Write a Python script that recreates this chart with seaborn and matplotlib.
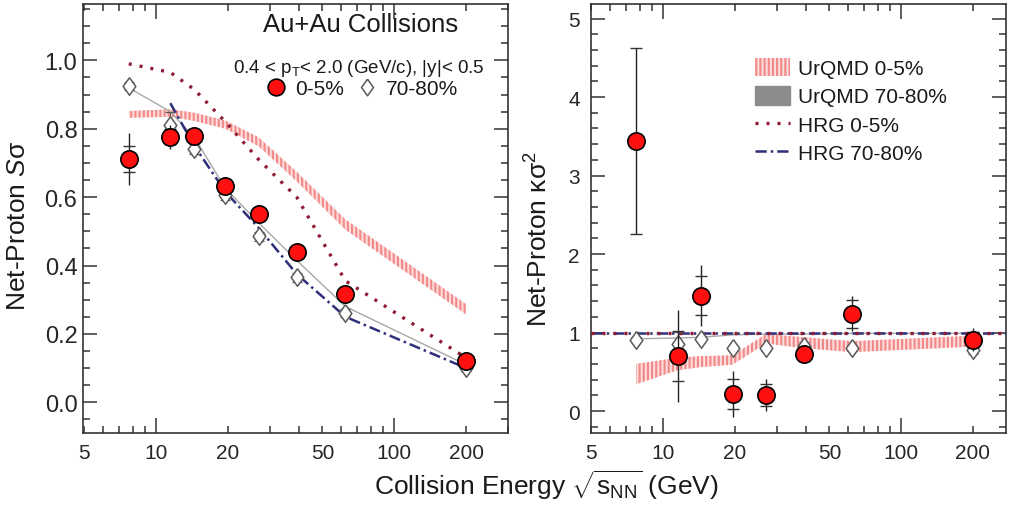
import numpy as np
import pandas as pd
import matplotlib
matplotlib.use("Agg")
import matplotlib.pyplot as plt
import seaborn as sns
from matplotlib.patches import Patch
from matplotlib.lines import Line2D
from matplotlib.ticker import FixedLocator, FixedFormatter, FuncFormatter, MultipleLocator

# ---------------- data ----------------
energies = [7.7, 11.5, 14.5, 19.6, 27, 39, 62.4, 200]
hrg_p_energies = [11.5, 14.5, 19.6, 27, 39, 62.4, 200]

# S*sigma
ss_central = [0.712, 0.777, 0.780, 0.634, 0.552, 0.440, 0.316, 0.120]
ss_central_stat = [0.076, 0.035, 0.020, 0.012, 0.010, 0.008, 0.007, 0.006]
ss_central_sys = [0.038, 0.022, 0.015, 0.010, 0.010, 0.008, 0.007, 0.006]
ss_periph = [0.925, 0.810, 0.740, 0.605, 0.485, 0.365, 0.260, 0.100]
ss_periph_sys = [0.012, 0.040, 0.015, 0.012, 0.012, 0.012, 0.012, 0.010]
urqmd_ss_c_mid = [0.842, 0.846, 0.835, 0.812, 0.762, 0.660, 0.520, 0.272]
urqmd_ss_c_err = [0.010, 0.011, 0.012, 0.012, 0.013, 0.014, 0.015, 0.015]
urqmd_ss_p = [0.920, 0.850, 0.775, 0.625, 0.525, 0.415, 0.280, 0.110]
hrg_ss_c = [0.990, 0.965, 0.915, 0.820, 0.710, 0.600, 0.355, 0.130]
hrg_ss_p = [0.875, 0.750, 0.615, 0.510, 0.375, 0.250, 0.100]

# kappa*sigma^2
ks_central = [3.44, 0.70, 1.47, 0.215, 0.205, 0.73, 1.24, 0.91]
ks_central_stat = [1.19, 0.59, 0.39, 0.29, 0.20, 0.10, 0.22, 0.15]
ks_central_sys = [1.19, 0.32, 0.25, 0.19, 0.14, 0.09, 0.18, 0.10]
ks_periph = [0.91, 0.86, 0.92, 0.80, 0.80, 0.83, 0.80, 0.78]
ks_periph_sys = [0.03, 0.15, 0.03, 0.03, 0.03, 0.05, 0.03, 0.05]
urqmd_ks_c_mid = [0.47, 0.60, 0.63, 0.65, 0.92, 0.87, 0.82, 0.89]
urqmd_ks_c_err = [0.13, 0.08, 0.07, 0.06, 0.06, 0.07, 0.07, 0.07]
urqmd_ks_p = [0.92, 0.93, 0.94, 0.97, 0.98, 0.98, 0.99, 0.99]
hrg_ks = 1.0

xmajor_vals = [10, 100]
xminor_vals = [5, 6, 7, 8, 9, 20, 30, 40, 50, 60, 70, 80, 90, 200, 300]
xtick_label_map = {5: "5", 10: "10", 20: "20", 50: "50", 100: "100", 200: "200"}
left_yticks = [0.0, 0.2, 0.4, 0.6, 0.8, 1.0]
left_ytick_labels = ["0.0", "0.2", "0.4", "0.6", "0.8", "1.0"]
right_yticks = [0, 1, 2, 3, 4, 5]
right_ytick_labels = ["0", "1", "2", "3", "4", "5"]

# ---------------- style ----------------
sns.set_theme(style="ticks")
plt.rcParams["font.family"] = ["Liberation Sans", "DejaVu Sans"]
plt.rcParams["mathtext.fontset"] = "custom"
plt.rcParams["mathtext.rm"] = "Liberation Sans"
plt.rcParams["mathtext.it"] = "Liberation Sans:italic"
plt.rcParams["mathtext.bf"] = "Liberation Sans:bold"
plt.rcParams["hatch.linewidth"] = 1.6
plt.rcParams["axes.edgecolor"] = "#333333"
plt.rcParams["text.color"] = "#1a1a1a"

RED = "#ff1010"
PINK_FACE = "#fde0e0"
PINK_HATCH = "#f28a8a"
HRG_RED = "#8e1b33"
HRG_BLUE = "#30307a"
GRAY_LINE = "#a8a8a8"
DIAMOND_EDGE = "#5a5a5a"
diamond_marker = [(0, 1), (0.72, 0), (0, -1), (-0.72, 0), (0, 1)]
dot_style = (0, (0.9, 2.4))
dashdot_style = (0, (4.5, 1.6, 1.0, 1.6))
DOT_LW = 2.4
DD_LW = 1.8

fig = plt.figure(figsize=(10.09, 5.06), dpi=100)
W, H = 1009, 506
ax1 = fig.add_axes([83 / W, (H - 434) / H, 425 / W, 429 / H])
ax2 = fig.add_axes([591 / W, (H - 434) / H, 415 / W, 429 / H])


def xlabel_fmt(v, pos):
    for k, s in xtick_label_map.items():
        if abs(v - k) < 1e-6 * k:
            return s
    return ""


def style_axes(ax, xlim, ylim, yticks, ylabels, yminor, ysize, ypad):
    ax.set_xscale("log")
    ax.set_xlim(*xlim)
    ax.set_ylim(*ylim)
    ax.xaxis.set_major_locator(FixedLocator(xmajor_vals))
    ax.xaxis.set_major_formatter(FuncFormatter(xlabel_fmt))
    ax.xaxis.set_minor_locator(FixedLocator(xminor_vals))
    ax.xaxis.set_minor_formatter(FuncFormatter(xlabel_fmt))
    ax.yaxis.set_major_locator(FixedLocator(yticks))
    ax.yaxis.set_major_formatter(FixedFormatter(ylabels))
    ax.yaxis.set_minor_locator(MultipleLocator(yminor))
    ax.tick_params(which="both", direction="in", top=True, right=True,
                   color="#333333", width=1.1)
    ax.tick_params(axis="x", which="major", length=11, labelsize=15, pad=7)
    ax.tick_params(axis="x", which="minor", length=5, labelsize=15, pad=7)
    ax.tick_params(axis="y", which="major", length=10, labelsize=ysize, pad=ypad)
    ax.tick_params(axis="y", which="minor", length=5)
    for s in ax.spines.values():
        s.set_linewidth(1.2)
        s.set_color("#333333")
    ax.grid(False)


# ---------------- left panel: S sigma ----------------
lo = np.array(urqmd_ss_c_mid) - np.array(urqmd_ss_c_err)
hi = np.array(urqmd_ss_c_mid) + np.array(urqmd_ss_c_err)
ax1.fill_between(energies, lo, hi, facecolor=PINK_FACE, edgecolor=PINK_HATCH,
                 hatch="||||", linewidth=0, zorder=1)
sns.lineplot(x=energies, y=urqmd_ss_p, ax=ax1, color=GRAY_LINE, linewidth=1.0,
             sort=False, errorbar=None, zorder=2)
sns.lineplot(x=energies, y=hrg_ss_c, ax=ax1, color=HRG_RED, linewidth=DOT_LW,
             linestyle=dot_style, sort=False, errorbar=None, zorder=3)
sns.lineplot(x=hrg_p_energies, y=hrg_ss_p, ax=ax1, color=HRG_BLUE, linewidth=DD_LW,
             linestyle=dashdot_style, sort=False, errorbar=None, zorder=3)

ax1.errorbar(energies, ss_periph, yerr=ss_periph_sys, fmt="none", ecolor=DIAMOND_EDGE,
             elinewidth=0.8, capsize=3.5, capthick=0.9, zorder=4)
sns.scatterplot(x=energies, y=ss_periph, ax=ax1, marker=diamond_marker, s=160,
                color="white", edgecolor=DIAMOND_EDGE, linewidth=1.1, zorder=5)
ax1.errorbar(energies, ss_central, yerr=ss_central_stat, fmt="none", ecolor="#222222",
             elinewidth=1.0, capsize=0, zorder=6)
ax1.errorbar(energies, ss_central, yerr=ss_central_sys, fmt="none", ecolor="#333333",
             elinewidth=0, capsize=4, capthick=1.0, zorder=6)
sns.scatterplot(x=energies, y=ss_central, ax=ax1, marker="o", s=155,
                color=RED, edgecolor="black", linewidth=1.2, zorder=7)

style_axes(ax1, (4.95, 300), (-0.09, 1.165), left_yticks, left_ytick_labels,
           0.05, 17, 4)

ax1.text(0.654, 0.953, "Au+Au Collisions", transform=ax1.transAxes,
         ha="center", va="center", fontsize=18.5)
ax1.text(0.649, 0.853, "0.4 < p$_\\mathrm{T}$< 2.0 (GeV/c), |y|< 0.5",
         transform=ax1.transAxes, ha="center", va="center", fontsize=13.5)
leg1_handles = [
    Line2D([], [], marker="o", ls="none", mfc=RED, mec="black", mew=1.2, ms=12),
    Line2D([], [], marker=diamond_marker, ls="none", mfc="white", mec=DIAMOND_EDGE,
           mew=1.1, ms=12),
]
ax1.legend(leg1_handles, ["0-5%", "70-80%"], ncol=2, loc="center left",
           bbox_to_anchor=(0.43, 0.802), frameon=False, fontsize=15,
           handlelength=1.0, handletextpad=0.4, columnspacing=0.6,
           borderpad=0, borderaxespad=0)

# ---------------- right panel: kappa sigma^2 ----------------
lo2 = np.array(urqmd_ks_c_mid) - np.array(urqmd_ks_c_err)
hi2 = np.array(urqmd_ks_c_mid) + np.array(urqmd_ks_c_err)
ax2.fill_between(energies, lo2, hi2, facecolor=PINK_FACE, edgecolor=PINK_HATCH,
                 hatch="||||", linewidth=0, zorder=1)
sns.lineplot(x=energies, y=urqmd_ks_p, ax=ax2, color=GRAY_LINE, linewidth=1.0,
             sort=False, errorbar=None, zorder=2)
ax2.axhline(hrg_ks, color=HRG_BLUE, linewidth=DD_LW, linestyle=dashdot_style, zorder=3)
ax2.axhline(hrg_ks, color=HRG_RED, linewidth=DOT_LW, linestyle=dot_style, zorder=3)

ax2.errorbar(energies, ks_periph, yerr=ks_periph_sys, fmt="none", ecolor=DIAMOND_EDGE,
             elinewidth=0.8, capsize=3.5, capthick=0.9, zorder=4)
sns.scatterplot(x=energies, y=ks_periph, ax=ax2, marker=diamond_marker, s=160,
                color="white", edgecolor=DIAMOND_EDGE, linewidth=1.1, zorder=5)
ax2.errorbar(energies, ks_central, yerr=ks_central_stat, fmt="none", ecolor="#222222",
             elinewidth=1.0, capsize=0, zorder=6)
ax2.errorbar(energies, ks_central, yerr=ks_central_sys, fmt="none", ecolor="#333333",
             elinewidth=0, capsize=4.5, capthick=1.0, zorder=6)
sns.scatterplot(x=energies, y=ks_central, ax=ax2, marker="o", s=155,
                color=RED, edgecolor="black", linewidth=1.2, zorder=7)

style_axes(ax2, (4.98, 276), (-0.28, 5.185), right_yticks, right_ytick_labels,
           0.2, 15, 8)

leg2_handles = [
    Patch(facecolor=PINK_FACE, edgecolor=PINK_HATCH, hatch="||||", linewidth=0),
    Patch(facecolor="#8c8c8c", edgecolor="#8c8c8c"),
    Line2D([], [], color=HRG_RED, linewidth=DOT_LW, linestyle=dot_style),
    Line2D([], [], color=HRG_BLUE, linewidth=DD_LW, linestyle=dashdot_style),
]
ax2.legend(leg2_handles, ["UrQMD 0-5%", "UrQMD 70-80%", "HRG 0-5%", "HRG 70-80%"],
           loc="upper left", bbox_to_anchor=(0.395, 0.875), frameon=False,
           fontsize=15, handlelength=1.7, handleheight=1.0, handletextpad=0.35,
           labelspacing=0.38, borderpad=0, borderaxespad=0)

# ---------------- axis titles ----------------
fig.text(18 / W, 1 - 226 / H, "Net-Proton $S$σ", rotation=90,
         ha="center", va="center", fontsize=19)
fig.text(539 / W, 1 - 239 / H, "Net-Proton κσ$^2$", rotation=90,
         ha="center", va="center", fontsize=19)
fig.text(546 / W, 1 - 485 / H, "Collision Energy $\\sqrt{\\mathrm{s}_\\mathrm{NN}}$ (GeV)",
         ha="center", va="center", fontsize=19)

fig.savefig("out.png", dpi=100)
